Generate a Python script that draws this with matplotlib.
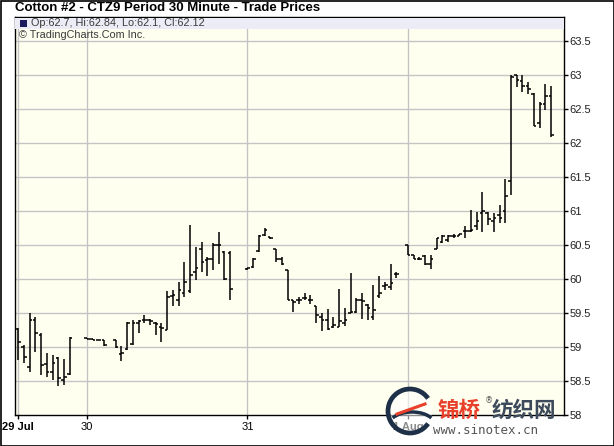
import matplotlib
matplotlib.use("Agg")
import matplotlib.pyplot as plt
from matplotlib.patches import Rectangle, Arc, Circle

# ---------------- data (30-minute bars, index = bar slot) ----------------
bar_idx = [0, 1, 2, 3, 4, 5, 6, 7, 8, 9,
           12, 13, 14, 15, 17, 18, 19, 20, 21, 22, 23, 24, 25, 26, 27, 28, 29,
           30, 31, 32, 33, 34, 35, 36, 37,
           40, 41, 42, 43, 44, 45, 46, 47, 48, 49, 50, 51, 52, 53, 54, 55, 56,
           57, 58, 59, 60, 61, 62, 63, 64, 65, 66,
           68, 69, 70, 71, 72, 73, 74, 75, 76, 77, 78, 79, 80, 81, 82, 83, 84,
           85, 86, 87, 88, 89, 90, 91, 92, 93]
opens = [59.27, 59.00, 58.70, 59.40, 59.18, 58.75, 58.64, 58.84, 58.52, 58.61,
         59.13, 59.12, 59.11, 59.10, 59.10, 58.90, 58.97, 59.05, 59.35, 59.40, 59.40, 59.35, 59.30, 59.25, 59.75, 59.70, 59.80,
         59.82, 60.10, 60.45, 60.28, 60.30, 60.50, 60.40, 60.38,
         60.15, 60.18, 60.41, 60.65, 60.62, 60.44, 60.30, 60.14, 59.69, 59.70, 59.72, 59.70, 59.60, 59.45, 59.40, 59.30, 59.30,
         59.35, 59.50, 59.52, 59.70, 59.62, 59.45, 59.75, 59.90, 59.88, 60.07,
         60.50, 60.35, 60.29, 60.34, 60.22, 60.45, 60.55, 60.58, 60.63, 60.64, 60.71, 60.71, 60.78, 60.97, 60.98, 60.85, 60.95,
         61.00, 61.45, 63.00, 62.92, 62.85, 62.73, 62.30, 62.58, 62.70]
highs = [59.28, 59.03, 59.50, 59.45, 59.20, 58.91, 58.88, 58.86, 58.83, 59.15,
         59.14, 59.12, 59.11, 59.10, 59.10, 59.02, 59.37, 59.40, 59.40, 59.47, 59.42, 59.37, 59.35, 59.82, 59.84, 59.96, 60.26,
         60.80, 60.48, 60.55, 60.33, 60.53, 60.70, 60.41, 60.41,
         60.17, 60.31, 60.65, 60.75, 60.62, 60.44, 60.33, 60.14, 59.69, 59.74, 59.79, 59.77, 59.60, 59.50, 59.56, 59.45, 59.85,
         59.57, 60.09, 59.72, 59.79, 59.64, 59.91, 60.04, 59.96, 60.23, 60.11,
         60.50, 60.35, 60.32, 60.35, 60.36, 60.60, 60.65, 60.65, 60.66, 60.67, 60.78, 61.02, 60.99, 61.28, 60.99, 60.97, 61.09,
         61.48, 63.00, 63.00, 63.00, 62.90, 62.74, 62.61, 62.88, 62.84]
lows = [58.81, 58.76, 58.64, 58.93, 58.59, 58.56, 58.52, 58.42, 58.44, 58.59,
        59.12, 59.11, 59.10, 59.02, 58.98, 58.79, 58.96, 59.03, 59.20, 59.35, 59.33, 59.18, 59.08, 59.25, 59.60, 59.60, 59.74,
        59.79, 59.99, 60.11, 60.04, 60.14, 60.23, 59.99, 59.69,
        60.14, 60.17, 60.40, 60.64, 60.59, 60.26, 60.21, 59.69, 59.52, 59.64, 59.69, 59.64, 59.35, 59.23, 59.25, 59.28, 59.30,
        59.31, 59.50, 59.50, 59.42, 59.40, 59.40, 59.72, 59.84, 59.84, 60.01,
        60.35, 60.29, 60.28, 60.21, 60.15, 60.45, 60.53, 60.55, 60.60, 60.63, 60.60, 60.69, 60.72, 60.70, 60.80, 60.70, 60.82,
        60.82, 61.24, 62.83, 62.76, 62.73, 62.25, 62.22, 62.49, 62.10]
closes = [59.08, 58.85, 59.40, 59.20, 58.74, 58.64, 58.76, 58.55, 58.56, 59.13,
          59.12, 59.11, 59.11, 59.03, 59.00, 58.92, 59.35, 59.35, 59.38, 59.40, 59.38, 59.34, 59.28, 59.74, 59.76, 59.84, 59.96,
          60.06, 60.16, 60.26, 60.30, 60.50, 60.50, 60.00, 59.85,
          60.16, 60.30, 60.63, 60.72, 60.60, 60.30, 60.22, 59.70, 59.66, 59.70, 59.72, 59.70, 59.47, 59.40, 59.27, 59.32, 59.38,
          59.40, 59.52, 59.70, 59.68, 59.57, 59.55, 59.79, 59.92, 59.94, 60.07,
          60.36, 60.29, 60.30, 60.22, 60.30, 60.60, 60.63, 60.64, 60.63, 60.66, 60.71, 60.72, 60.85, 61.00, 60.88, 60.90, 60.90,
          61.22, 62.98, 62.93, 62.85, 62.80, 62.26, 62.58, 62.70, 62.12]

day_ticks = [0, 12, 40, 68]
day_labels = ["29 Jul", "30", "31", "1 Aug"]
day_bold = [True, False, False, True]
y_ticks = [58, 58.5, 59, 59.5, 60, 60.5, 61, 61.5, 62, 62.5, 63, 63.5]
y_labels = ["58", "58.5", "59", "59.5", "60", "60.5", "61", "61.5", "62", "62.5", "63", "63.5"]

title = "Cotton #2 - CTZ9 Period 30 Minute - Trade Prices"
legend_text = "Op:62.7, Hi:62.84, Lo:62.1, Cl:62.12"
credit_text = "\u00a9 TradingCharts.Com Inc."

# ---------------- layout ----------------
W, H = 614, 446
fig = plt.figure(figsize=(W / 100, H / 100), dpi=100)
fig.patch.set_facecolor("white")
L, R, T, B = 15, 564, 17, 415
ax = fig.add_axes([L / W, 1 - B / H, (R - L) / W, (B - T) / H])
ax.set_facecolor("#fffff0")
ax.set_xlim(-0.56, 95.25)
ax.set_ylim(58, 63.86)

for y in y_ticks[1:]:
    ax.axhline(y, color="#c4c4c4", lw=1.0, zorder=1)
for x in day_ticks:
    ax.axvline(x, color="#c4c4c4", lw=1.0, zorder=1)

tick_w = 0.45
ax.vlines(bar_idx, lows, highs, colors="#000000", lw=1.1, zorder=3)
ax.hlines(opens, [i - tick_w for i in bar_idx], bar_idx, colors="#000000", lw=1.1, zorder=3)
ax.hlines(closes, bar_idx, [i + tick_w for i in bar_idx], colors="#000000", lw=1.1, zorder=3)

for s in ax.spines.values():
    s.set_color("black")
    s.set_linewidth(1.0)

ax.yaxis.tick_right()
ax.set_yticks(y_ticks)
ax.set_yticklabels(y_labels, fontsize=8, family="Liberation Sans", color="#222222")
ax.tick_params(axis="y", direction="out", length=3, width=1, pad=1)
ax.set_xticks(day_ticks)
ax.set_xticklabels(day_labels, fontsize=8, family="Liberation Sans")
for lab, b in zip(ax.get_xticklabels(), day_bold):
    if b:
        lab.set_fontweight("bold")
ax.tick_params(axis="x", direction="out", length=3, width=1, pad=2)

# legend strip inside the plot
yb0 = (B - 29) / (B - T)
yb1 = (B - 18) / (B - T)
ax.add_patch(Rectangle((0, yb0), 1, yb1 - yb0, transform=ax.transAxes,
                       facecolor="#ececf6", edgecolor="none", zorder=4))
ax.add_patch(Rectangle((5 / (R - L), (B - 27) / (B - T)), 7 / (R - L), 7 / (B - T),
                       transform=ax.transAxes, facecolor="#1c1c5c", edgecolor="none", zorder=5))
ax.text(16 / (R - L), (B - 23.5) / (B - T), legend_text, transform=ax.transAxes,
        fontsize=7.8, family="Liberation Sans", va="center", ha="left", color="#3a3a3a", zorder=6)
ax.text(4 / (R - L), (B - 35) / (B - T), credit_text, transform=ax.transAxes,
        fontsize=7.8, family="Liberation Sans", va="center", ha="left", color="#3a3a3a", zorder=6)

fig.text(15 / W, 1 - 8 / H, title, fontsize=9.5, fontweight="bold",
         family="Liberation Sans", va="center", ha="left")

# overlay: figure border + watermark
ov = fig.add_axes([0, 0, 1, 1])
ov.set_xlim(0, W)
ov.set_ylim(H, 0)
ov.axis("off")
ov.patch.set_alpha(0)
ov.add_patch(Rectangle((0.5, 0.5), W - 1, H - 1, fill=False, edgecolor="black", lw=1.2))

ov.add_patch(Circle((410, 411), 22, facecolor="white", alpha=0.55, edgecolor="none"))
ov.add_patch(Arc((410, 411), 44, 44, theta1=35, theta2=325, color="#1e3048", lw=3.4))
ov.add_patch(Arc((412, 425), 46, 26, theta1=200, theta2=340, color="#1e3048", lw=2.5))
ov.plot([397, 425], [414, 404], color="#e8402a", lw=2.2)

fig.text(438 / W, 1 - 410 / H, "锦桥", fontsize=15.5, fontweight="bold", color="#e8402a",
         family=["Noto Sans CJK SC", "DejaVu Sans"], va="center", ha="left")
fig.text(485 / W, 1 - 401 / H, "®", fontsize=6, color="#555555",
         family=["DejaVu Sans"], va="center", ha="left")
fig.text(492 / W, 1 - 410 / H, "纺织网", fontsize=15.5, fontweight="bold", color="#3d4a5c",
         family=["Noto Sans CJK SC", "DejaVu Sans"], va="center", ha="left")
fig.text(433 / W, 1 - 431 / H, "www.sinotex.cn", fontsize=9, color="#555555",
         family="DejaVu Sans Mono", va="center", ha="left")

fig.savefig("out.png", dpi=100, facecolor=fig.get_facecolor())
